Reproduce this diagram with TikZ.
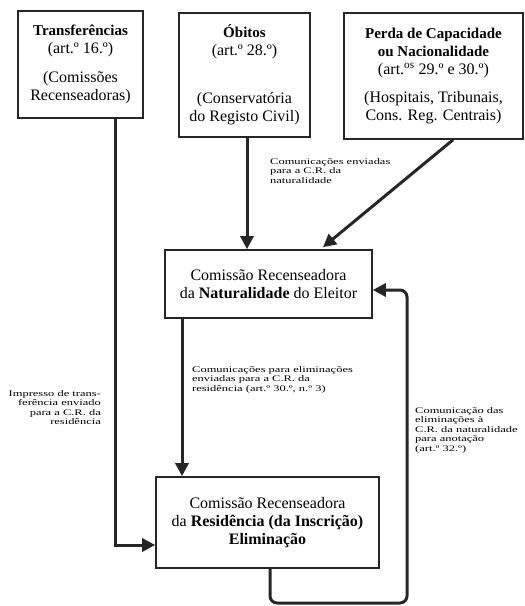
\documentclass[tikz,border=0pt]{standalone}
\usepackage{fontspec}
\setmainfont{Liberation Serif}
\newfontfamily\smallf[FakeStretch=1.45]{Liberation Serif}
\usetikzlibrary{arrows.meta,calc}
\begin{document}
\begin{tikzpicture}[x=1pt,y=-1pt,
  box/.style={draw=black!85,line width=1.6pt,align=center,inner sep=0pt,
    font=\fontsize{16}{18}\selectfont},
  conn/.style={line width=3pt,draw=black!85},
  arr/.style={conn,-{Triangle[length=13pt,width=13pt]}},
  lbl/.style={font=\smallf\fontsize{8.6}{9.6}\selectfont,inner sep=0pt}]
\useasboundingbox (0,0) rectangle (525,606);
% boxes
\node[box,minimum width=125pt,minimum height=107pt] (b1) at (80.5,64.5)
  {{\fontsize{15}{18}\selectfont\bfseries Transferências}\\(art.º 16.º)\\[11pt](Comissões\\Recenseadoras)};
\node[box,minimum width=131pt,minimum height=124pt] (b2) at (244.5,75)
  {{\fontsize{15}{18}\selectfont\bfseries Óbitos}\\(art.º 28.º)\\[30pt](Conservatória\\do Registo Civil)};
\node[box,minimum width=179pt,minimum height=126pt] (b3) at (433.5,76)
  {{\fontsize{15}{18}\selectfont\bfseries Perda de Capacidade}\\{\fontsize{15}{18}\selectfont\bfseries ou Nacionalidade}\\(art.\textsuperscript{os} 29.º e 30.º)\\[10pt](Hospitais, Tribunais,\\Cons. Reg. Centrais)};
\node[box,minimum width=207pt,minimum height=68pt] (b4) at (268.5,284)
  {Comissão Recenseadora\\da \textbf{Naturalidade} do Eleitor};
\node[box,minimum width=223pt,minimum height=91pt] (b5) at (267.5,522.5)
  {Comissão Recenseadora\\da \textbf{Residência (da Inscrição)}\\\textbf{Eliminação}};
% helper coordinates
\coordinate (k1) at (115,545);
\coordinate (k2) at (247,0);
\coordinate (d1) at (453,0);
\coordinate (d2) at (323,0);
\coordinate (k3) at (182,0);
\coordinate (lp0) at (270,0);
\coordinate (lp1) at (270,603);
\coordinate (lp2) at (407,603);
\coordinate (lp3) at (407,290);
% connectors
\draw[arr] (b1.south -| k1) |- (b5.west |- k1);
\draw[arr] (b2.south -| k2) -- (b4.north -| k2);
\draw[arr] (b3.south -| d1) -- ($(b4.north -| d2)+(0,-2)$);
\draw[arr] (b4.south -| k3) -- (b5.north -| k3);
\draw[arr,rounded corners=7pt] (b5.south -| lp0) -- (lp1) -- (lp2) -- (lp3) -- (b4.east |- lp3);
% labels
\node[lbl,align=left,anchor=north west] (t1) at (270,158)
  {Comunicações enviadas\\para a C.R. da\\naturalidade};
\node[lbl,align=right,anchor=north east] (t2) at (101,390)
  {Impresso de trans-\\ferência enviado\\para a C.R. da\\residência};
\node[lbl,align=left,anchor=north west] (t3) at (192,366)
  {Comunicações para eliminações\\enviadas para a C.R. da\\residência (art.º 30.º, n.º 3)};
\node[lbl,align=left,anchor=north west] (t4) at (415,407)
  {Comunicação das\\eliminações à\\C.R. da naturalidade\\para anotação\\(art.º 32.º)};
\end{tikzpicture}
\end{document}
